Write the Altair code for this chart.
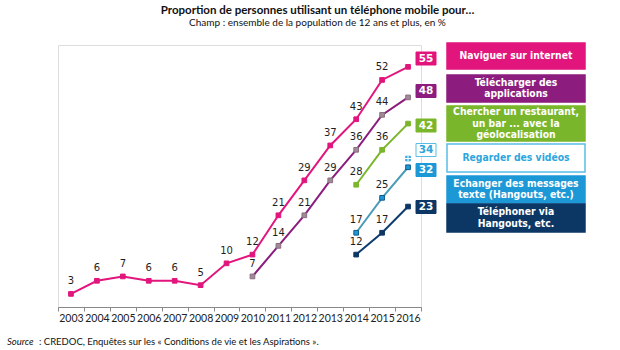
import altair as alt
import pandas as pd

# ---------------- data ----------------
years = list(range(2003, 2017))

series_names = [
    "Naviguer sur internet",
    "Télécharger des applications",
    "Chercher un restaurant, un bar ... avec la géolocalisation",
    "Regarder des vidéos",
    "Echanger des messages texte (Hangouts, etc.)",
    "Téléphoner via Hangouts, etc.",
]
legend_lines = [
    "Naviguer sur internet",
    "Télécharger des\napplications",
    "Chercher un restaurant,\nun bar ... avec la\ngéolocalisation",
    "Regarder des vidéos",
    "Echanger des messages\ntexte (Hangouts, etc.)",
    "Téléphoner via\nHangouts, etc.",
]

naviguer_years = years
naviguer = [3, 6, 7, 6, 6, 5, 10, 12, 21, 29, 37, 43, 52, 55]
telecharger_years = [2010, 2011, 2012, 2013, 2014, 2015, 2016]
telecharger = [7, 14, 21, 29, 36, 44, 48]
chercher_years = [2014, 2015, 2016]
chercher = [28, 36, 42]
videos_years = [2016]
videos = [34]
echanger_years = [2014, 2015, 2016]
echanger = [17, 25, 32]
telephoner_years = [2014, 2015, 2016]
telephoner = [12, 17, 23]

title_text = "Proportion de personnes utilisant un téléphone mobile pour…"
subtitle_text = "Champ : ensemble de la population de 12 ans et plus, en %"
source_label = "Source"
source_text = ": CREDOC, Enquêtes sur les « Conditions de vie et les Aspirations »."

all_years = [naviguer_years, telecharger_years, chercher_years, videos_years, echanger_years, telephoner_years]
all_values = [naviguer, telecharger, chercher, videos, echanger, telephoner]

rows = []
for name, ys, vs in zip(series_names, all_years, all_values):
    for yr, v in zip(ys, vs):
        rows.append({"series": name, "year": yr, "value": v})
df = pd.DataFrame(rows)

# ---------------- layout / style ----------------
PLOT_W, PLOT_H = 363, 262
Y_MAX = 60
PAD = {"left": 58, "top": 45, "right": 620 - 58 - PLOT_W, "bottom": 350 - 45 - PLOT_H}
LEG_LH = 11.5


def v(px):
    """pixel offset from plot top -> value units"""
    return Y_MAX * (PLOT_H - px) / PLOT_H


PINK = "#E2157D"
PURPLE = "#8C1C7E"
GREEN = "#7AB62B"
LIGHTBLUE = "#2EA6DD"
BLUE = "#1D98D6"
NAVY = "#0C3765"

line_colors = [PINK, PURPLE, GREEN, LIGHTBLUE, "#4B9BB7", "#0E3C6E"]
marker_fills = [PINK, "#A08A98", GREEN, "#3AAAE0", BLUE, NAVY]
marker_strokes = [PINK, "#8A6F80", GREEN, "#3AAAE0", "#0D5C8C", NAVY]
marker_sizes = [22, 22, 28, 50, 45, 36]
box_fills = [PINK, PURPLE, GREEN, "#FFFFFF", BLUE, NAVY]
box_strokes = [PINK, PURPLE, GREEN, "#5BBDE6", BLUE, NAVY]
box_text = ["#FFFFFF", "#FFFFFF", "#FFFFFF", LIGHTBLUE, "#FFFFFF", "#FFFFFF"]

# value boxes: centre (px from plot top), legend boxes: top/bottom px
vbox_center_px = [13.5, 46, 80.5, 105, 125, 162]
leg_top_px = [-2, 30, 61, 99, 131, 159]
leg_bot_px = [24, 57, 96, 127, 158, 187]

dom = series_names

vbox = pd.DataFrame({
    "series": series_names,
    "label": [str(vs[-1]) for vs in all_values],
    "yc": [v(p) for p in vbox_center_px],
    "yt": [v(p - 6.5) for p in vbox_center_px],
    "yb": [v(p + 6.5) for p in vbox_center_px],
})
n_lines = [s.count("\n") + 1 for s in legend_lines]
legend_df = pd.DataFrame({
    "series": series_names,
    "label": legend_lines,
    "yt": [v(p) for p in leg_top_px],
    "yb": [v(p) for p in leg_bot_px],
    "yc": [v((a + b) / 2 - (n - 1) * LEG_LH / 2) for a, b, n in zip(leg_top_px, leg_bot_px, n_lines)],
})

x_enc = alt.X(
    "year:O",
    scale=alt.Scale(type="band", domain=years, paddingInner=0, paddingOuter=0),
    bandPosition=0.5,
    title=None,
    axis=alt.Axis(
        tickBand="extent", labelAngle=0, labelFont="Lato", labelFontSize=10.5,
        labelColor="#222", domainColor="#888", tickColor="#888", tickSize=4,
        labelPadding=2,
    ),
)
y_scale = alt.Scale(domain=[0, Y_MAX], nice=False, zero=True)
y_enc = alt.Y(
    "value:Q", scale=y_scale, title=None,
    axis=alt.Axis(
        values=[0, 10, 20, 30, 40, 50, 60], grid=False, labelFont="DejaVu Sans",
        labelFontSize=10, labelColor="#333", domainColor="#888", tickColor="#888",
        tickSize=4, labelPadding=4,
    ),
)

base = alt.Chart(df)

lines = base.mark_line(strokeWidth=2).encode(
    x=x_enc, y=y_enc,
    color=alt.Color("series:N", scale=alt.Scale(domain=dom, range=line_colors), legend=None),
)
points = base.mark_point(shape="square", filled=True, strokeWidth=1, opacity=1).encode(
    x=x_enc, y=y_enc,
    fill=alt.Fill("series:N", scale=alt.Scale(domain=dom, range=marker_fills), legend=None),
    stroke=alt.Stroke("series:N", scale=alt.Scale(domain=dom, range=marker_strokes), legend=None),
    size=alt.Size("series:O", scale=alt.Scale(domain=dom, range=marker_sizes), legend=None),
)
video_cross = base.transform_filter(
    alt.datum.series == series_names[3]
).mark_point(
    shape="M-1,0H1M0,-1V1", filled=False, stroke="white", strokeWidth=1, size=40, opacity=1
).encode(x=x_enc, y=y_enc)

labels = base.transform_filter(alt.datum.year < 2016).mark_text(
    font="DejaVu Sans", fontSize=10, color="#1e1e1e", baseline="middle", dy=-12.5
).encode(x=x_enc, y=y_enc, text="value:Q")

data_layer = alt.layer(lines, points, video_cross, labels).resolve_scale(
    color="independent", fill="independent", stroke="independent", size="independent"
)

# value boxes at line ends
vb = alt.Chart(vbox)
vbox_rect = vb.mark_rect(strokeWidth=1).encode(
    x=alt.value(358), x2=alt.value(378),
    y=alt.Y("yt:Q", scale=y_scale, axis=None, title=None), y2="yb:Q",
    fill=alt.Fill("series:N", scale=alt.Scale(domain=dom, range=box_fills), legend=None),
    stroke=alt.Stroke("series:N", scale=alt.Scale(domain=dom, range=box_strokes), legend=None),
)
vbox_text = vb.mark_text(font="DejaVu Sans", fontWeight="bold", fontSize=10.5, baseline="middle").encode(
    x=alt.value(368),
    y=alt.Y("yc:Q", scale=y_scale, axis=None, title=None),
    text="label:N",
    color=alt.Color("series:N", scale=alt.Scale(domain=dom, range=box_text), legend=None),
)

# legend boxes
lg = alt.Chart(legend_df)
leg_rect = lg.mark_rect(strokeWidth=1.5).encode(
    x=alt.value(389), x2=alt.value(527),
    y=alt.Y("yt:Q", scale=y_scale, axis=None, title=None), y2="yb:Q",
    fill=alt.Fill("series:N", scale=alt.Scale(domain=dom, range=box_fills), legend=None),
    stroke=alt.Stroke("series:N", scale=alt.Scale(domain=dom, range=box_strokes), legend=None),
)
leg_text = lg.mark_text(
    font="DejaVu Sans Condensed", fontWeight="bold", fontSize=10.3, baseline="middle",
    align="center", lineBreak="\n", lineHeight=LEG_LH,
).encode(
    x=alt.value(458),
    y=alt.Y("yc:Q", scale=y_scale, axis=None, title=None),
    text="label:N",
    color=alt.Color("series:N", scale=alt.Scale(domain=dom, range=box_text), legend=None),
)

src_df = pd.DataFrame({"a": [source_label], "b": [source_text]})
src1 = alt.Chart(src_df).mark_text(
    font="Lato", fontSize=9.5, fontStyle="italic", align="left", baseline="middle", color="#111"
).encode(x=alt.value(-51), y=alt.value(297), text="a:N")
src2 = alt.Chart(src_df).mark_text(
    font="Lato", fontSize=9.5, align="left", baseline="middle", color="#111"
).encode(x=alt.value(-19), y=alt.value(297), text="b:N")

chart = alt.layer(
    data_layer, vbox_rect, vbox_text, leg_rect, leg_text, src1, src2
).resolve_scale(
    color="independent", fill="independent", stroke="independent", size="independent"
).properties(
    width=PLOT_W, height=PLOT_H,
    padding=PAD,
    autosize=alt.AutoSizeParams(type="none"),
    title=alt.Title(
        title_text, subtitle=subtitle_text, font="Lato", fontSize=11.5, fontWeight="bold",
        color="#111", subtitleFont="Lato", subtitleFontSize=10, subtitleColor="#111",
        anchor="middle", dx=78, offset=14, subtitlePadding=2,
    ),
).configure_view(stroke=None).configure(background="white")

chart.save("out.html", embed_options={"renderer": "svg", "actions": False})
